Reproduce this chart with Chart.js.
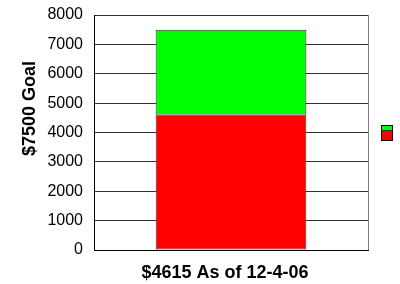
<!DOCTYPE html>
<html>
<head>
<meta charset="utf-8">
<script src="https://cdn.jsdelivr.net/npm/chart.js@4/dist/chart.umd.min.js"></script>
<style>
  html, body { margin: 0; padding: 0; background: #fff; }
  #wrap { width: 400px; height: 284px; }
</style>
</head>
<body>
<div id="wrap"><canvas id="c" width="400" height="284"></canvas></div>
<script>
const categories = [''];
const seriesNames = ['Raised', 'Remaining'];
const raisedValues = [4615];
const remainingValues = [2885];
const yMin = 0, yMax = 8000, yStep = 1000;
const yTitle = '$7500 Goal';
const xTitle = '$4615 As of 12-4-06';

const FONT = "'Liberation Sans', Arial, sans-serif";

const framePlugin = {
  id: 'frame',
  afterLayout(chart) {
    const ys = chart.scales.y, xs = chart.scales.x;
    const proto = Object.getPrototypeOf(ys);
    if (!ys._shifted) {
      ys._shifted = true;
      ys.drawTitle = function () {
        const c = this.ctx; c.save(); c.translate(0, -24); proto.drawTitle.call(this); c.restore();
      };
    }
    if (!xs._shifted) {
      xs._shifted = true;
      xs.drawTitle = function () {
        const c = this.ctx; c.save(); c.translate(-6, 0); proto.drawTitle.call(this); c.restore();
      };
    }
  },
  afterDatasetsDraw(chart) {
    const ctx = chart.ctx, a = chart.chartArea;
    ctx.save();
    ctx.strokeStyle = '#808080';
    ctx.lineWidth = 1;
    ctx.beginPath();
    ctx.moveTo(Math.round(a.right) + 0.5, a.top);
    ctx.lineTo(Math.round(a.right) + 0.5, a.bottom);
    ctx.stroke();
    // legend keys (no text), stacked like the original
    const ds = chart.data.datasets;
    const lx = 381, ly = 125, lw = 12;
    ctx.fillStyle = ds[1].backgroundColor;
    ctx.fillRect(lx, ly, lw, 5);
    ctx.fillStyle = ds[0].backgroundColor;
    ctx.fillRect(lx, ly + 5, lw, 11);
    ctx.strokeStyle = '#000';
    ctx.strokeRect(lx + 0.5, ly + 0.5, lw - 1, 15);
    ctx.beginPath();
    ctx.moveTo(lx, ly + 5.5); ctx.lineTo(lx + lw, ly + 5.5);
    ctx.strokeStyle = '#333';
    ctx.stroke();
    ctx.restore();
  }
};

new Chart(document.getElementById('c'), {
  type: 'bar',
  data: {
    labels: categories,
    datasets: [
      { label: seriesNames[0], data: raisedValues, backgroundColor: '#ff0000', borderColor: '#333333', borderWidth: 1, borderSkipped: false },
      { label: seriesNames[1], data: remainingValues, backgroundColor: '#00ff00', borderColor: '#333333', borderWidth: 1, borderSkipped: false }
    ]
  },
  options: {
    responsive: false,
    animation: false,
    devicePixelRatio: 1,
    layout: { padding: { top: 15, right: 32, bottom: 0, left: 0 } },
    datasets: { bar: { barPercentage: 0.55, categoryPercentage: 1.0 } },
    plugins: { legend: { display: false }, tooltip: { enabled: false } },
    scales: {
      x: {
        stacked: true,
        grid: { display: false, drawTicks: false },
        border: { display: true, color: '#000', width: 1 },
        ticks: { display: false },
        title: { display: true, text: xTitle, color: '#000', font: { family: FONT, size: 18, weight: 'bold' }, padding: { top: 0, bottom: 0 } },
        afterFit(s) { s.height = 34; }
      },
      y: {
        stacked: true,
        min: yMin, max: yMax,
        grid: { color: '#333333', lineWidth: 1, drawTicks: false },
        border: { display: true, color: '#000', width: 1 },
        ticks: { stepSize: yStep, padding: 11, color: '#000', font: { family: FONT, size: 16 }, callback: (v) => String(v) },
        title: { display: true, text: yTitle, color: '#000', font: { family: FONT, size: 18, weight: 'bold' }, padding: { top: 19, bottom: 0 } },
        afterFit(s) { s.width = 94; s.paddingTop = 0; s.paddingBottom = 0; }
      }
    }
  },
  plugins: [framePlugin]
});
</script>
</body>
</html>
